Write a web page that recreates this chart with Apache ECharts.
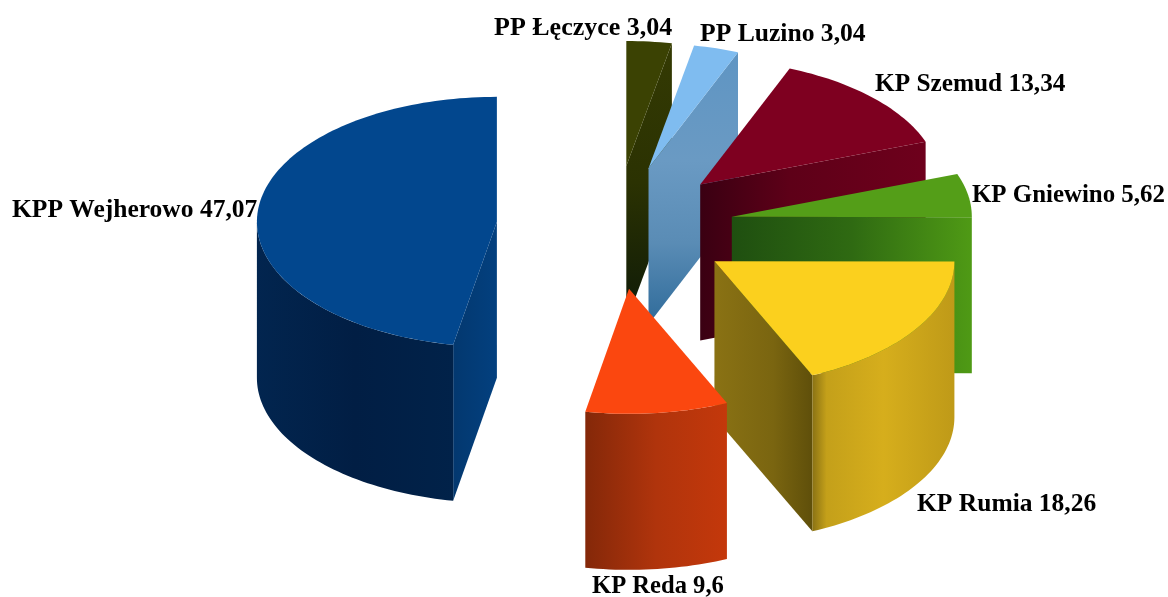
<!DOCTYPE html>
<html><head><meta charset="utf-8">
<style>html,body{margin:0;padding:0;background:#fff}#c{width:1168px;height:597px}</style>
<script src="https://cdn.jsdelivr.net/npm/echarts@6/dist/echarts.min.js"></script>
</head><body><div id="c"></div>
<script>
// Data, in clockwise slice order from 12 o'clock
const categories = ['PP Łęczyce','PP Luzino','KP Szemud','KP Gniewino','KP Rumia','KP Reda','KPP Wejherowo'];
const valueLabels = ['3,04','3,04','13,34','5,62','18,26','9,6','47,07'];
const values = [3.04,3.04,13.34,5.62,18.26,9.6,47.07];

// Styles
const topColors = ['#3b4203','#7fbcf0','#7e0020','#549e18','#fbd01e','#fb470f','#02478e'];
const wallStops = [
  [[0,'#2b3002'],[1,'#2b3002']],
  [[0,'#5e8fb9'],[1,'#5e8fb9']],
  [[0,'#5c0018'],[1,'#5c0018']],
  [[0,'#4b9415'],[1,'#4b9415']],
  [[0,'#8a7214'],[0.1,'#c4a01a'],[0.5,'#d6ae1c'],[1,'#bf9a18']],
  [[0,'#842809'],[0.5,'#b0340c'],[1,'#c4380b']],
  [[0,'#02254f'],[0.5,'#011e44'],[1,'#012249']]
];
const faceGrad = [
  {c:[0,0,0,1], s:[[0,'#343a03'],[0.5,'#2b3202'],[1,'#0e1a08']]},
  {c:[0,0,0,1], s:[[0,'#5f95c3'],[0.4,'#6a9ac3'],[0.7,'#5a8cb5'],[1,'#2f6b9a']]},
  {c:[0,0,1,0], s:[[0,'#3a0012'],[0.4,'#5e0018'],[1,'#6e001c']]},
  {c:[0,0,1,0], s:[[0,'#1f4f10'],[0.5,'#2f6a12'],[1,'#4f9a15']]},
  {c:[0,0,1,0], s:[[0,'#8a7214'],[0.6,'#7a6510'],[1,'#5f4f0a']]},
  {c:[0,0,1,0], s:[[0,'#8a2a0a'],[1,'#8a2a0a']]},
  {c:[0,0,1,0], s:[[0,'#03386f'],[1,'#03407f']]}
];
// Label placement: left edge, vertical middle, font size
const labelAnchors = [[494,28],[700,34],[875,84],[972,196],[917,504],[592,587],[12,210]];
const labelSizes = [26,25.6,25.3,24.9,25.5,24.6,25.5];

// Pie geometry
const CX=615, CY=227.5, RX=240, RY=125, H=156, EXPLODE=118.6;
const total = values.reduce((a,b)=>a+b,0);
const rad = d=>d*Math.PI/180;
let acc=0;
const starts=[], ends=[];
values.forEach(v=>{starts.push(acc/total*360);acc+=v;ends.push(acc/total*360);});

function grad(c,stops){
  return new echarts.graphic.LinearGradient(c[0],c[1],c[2],c[3],stops.map(s=>({offset:s[0],color:s[1]})));
}
function renderItem(params,api){
  const i=params.dataIndex, s=starts[i], e=ends[i], m=(s+e)/2;
  const ax=CX+EXPLODE*Math.sin(rad(m)), ay=CY-EXPLODE*(RY/RX)*Math.cos(rad(m));
  const P=a=>[ax+RX*Math.sin(rad(a)), ay-RY*Math.cos(rad(a))];
  const arc=(a,b)=>{const pts=[];const n=Math.max(2,Math.ceil((b-a)/1.5));for(let k=0;k<=n;k++)pts.push(P(a+(b-a)*k/n));return pts;};
  const down=p=>[p[0],p[1]+H];
  const children=[];
  // cut face at the side turned toward the viewer
  const cut = (e<180) ? e : (s>180 ? s : null);
  if(cut!==null){
    const p=P(cut);
    children.push({type:'polygon',shape:{points:[[ax,ay],p,down(p),[ax,ay+H]]},
      style:{fill:grad(faceGrad[i].c,faceGrad[i].s)}});
  }
  // outer wall: front half of the rim
  const a0=Math.max(s,90), a1=Math.min(e,270);
  if(a1>a0){
    const rim=arc(a0,a1);
    children.push({type:'polygon',shape:{points:rim.concat(rim.map(down).reverse())},
      style:{fill:grad([0,0,1,0],wallStops[i])}});
  }
  // top
  children.push({type:'polygon',shape:{points:[[ax,ay]].concat(arc(s,e))},style:{fill:topColors[i]}});
  // label
  const la=labelAnchors[i];
  children.push({type:'text',z2:100,x:la[0],y:la[1],style:{
    text:categories[i]+' '+valueLabels[i],fill:'#000',
    font:'bold '+labelSizes[i]+'px "Liberation Serif"',textAlign:'left',textVerticalAlign:'middle'}});
  return {type:'group',children};
}
const chart=echarts.init(document.getElementById('c'),null,{renderer:'canvas'});
chart.setOption({
  animation:false,backgroundColor:'#fff',
  series:[{type:'custom',coordinateSystem:'none',silent:true,renderItem,
    data:values.map((v,i)=>({name:categories[i],value:[i,v]}))}]
});
</script></body></html>
